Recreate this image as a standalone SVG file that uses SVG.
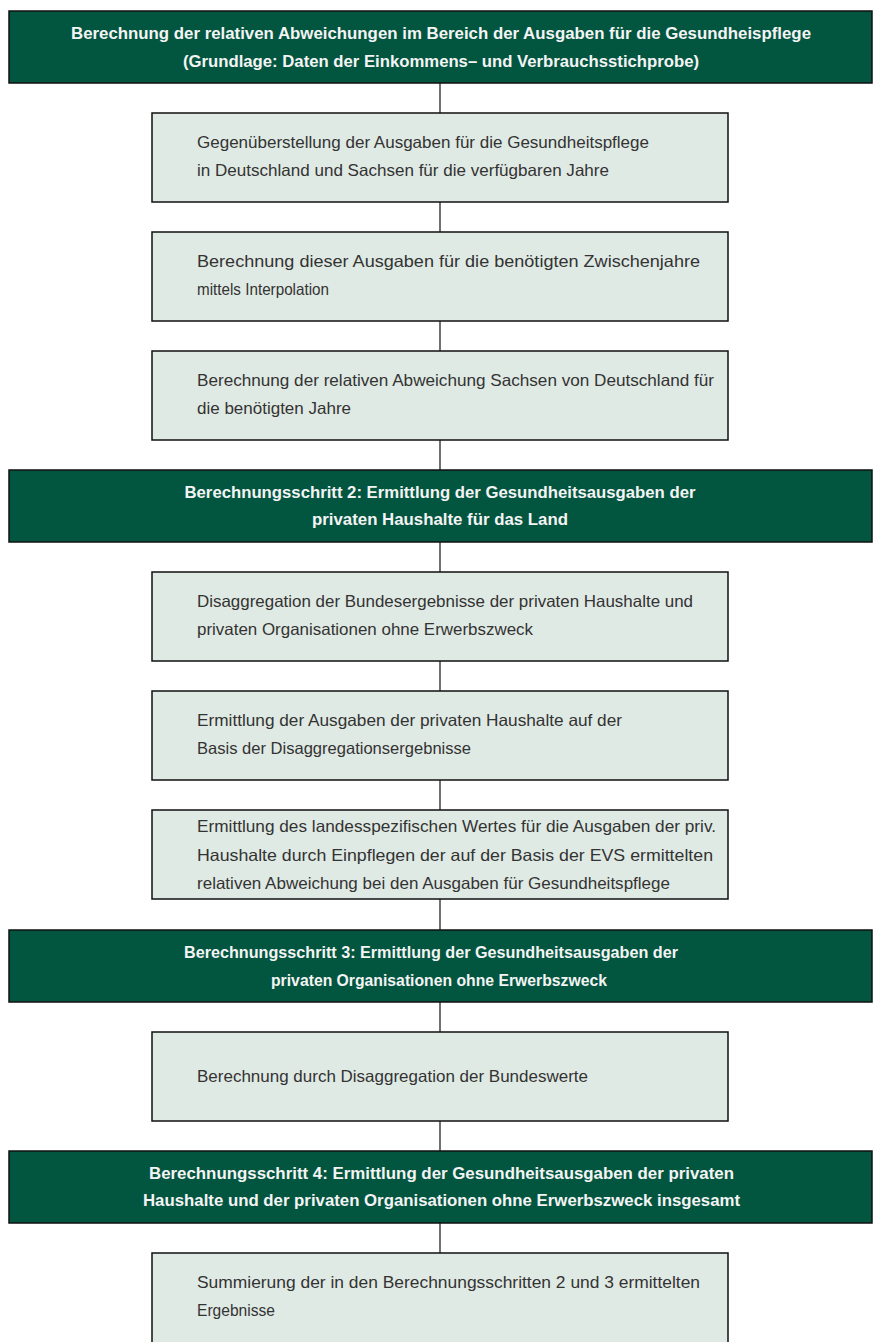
<svg xmlns="http://www.w3.org/2000/svg" width="875" height="1342" viewBox="0 0 875 1342">
<style>
.hd{fill:#02553F;stroke:#111;stroke-width:1.5}
.bx{fill:#E0EAE4;stroke:#111;stroke-width:1.5}
.ht{font-family:"Liberation Sans Narrow","Liberation Sans",Arial,sans-serif;font-size:17px;font-weight:bold;fill:#F4F4F4;text-anchor:middle}
.bt{font-family:"Liberation Sans Narrow","Liberation Sans",Arial,sans-serif;font-size:16.5px;fill:#333333}
.cn{stroke:#111;stroke-width:1.2;fill:none}
</style>
<rect width="875" height="1342" fill="#FFFFFF"/>
<g id="connectors">
<line class="cn" x1="440" y1="83" x2="440" y2="113"/>
<line class="cn" x1="440" y1="202" x2="440" y2="232"/>
<line class="cn" x1="440" y1="321" x2="440" y2="351"/>
<line class="cn" x1="440" y1="440" x2="440" y2="470"/>
<line class="cn" x1="440" y1="542" x2="440" y2="572"/>
<line class="cn" x1="440" y1="661" x2="440" y2="691"/>
<line class="cn" x1="440" y1="780" x2="440" y2="810"/>
<line class="cn" x1="440" y1="899" x2="440" y2="930"/>
<line class="cn" x1="440" y1="1002" x2="440" y2="1032"/>
<line class="cn" x1="440" y1="1121" x2="440" y2="1151"/>
<line class="cn" x1="440" y1="1223" x2="440" y2="1253"/>
</g>
<g id="header1">
<rect class="hd" x="9" y="11" width="863" height="72"/>
<text class="ht" x="441" y="38.5" textLength="740" lengthAdjust="spacingAndGlyphs">Berechnung der relativen Abweichungen im Bereich der Ausgaben für die Gesundheispflege</text>
<text class="ht" x="441" y="66.5" textLength="516" lengthAdjust="spacingAndGlyphs">(Grundlage: Daten der Einkommens– und Verbrauchsstichprobe)</text>
</g>
<g id="box1">
<rect class="bx" x="152" y="113" width="576" height="89"/>
<text class="bt" x="197" y="148" textLength="452" lengthAdjust="spacingAndGlyphs">Gegenüberstellung der Ausgaben für die Gesundheitspflege</text>
<text class="bt" x="197" y="176" textLength="412" lengthAdjust="spacingAndGlyphs">in Deutschland und Sachsen für die verfügbaren Jahre</text>
</g>
<g id="box2">
<rect class="bx" x="152" y="232" width="576" height="89"/>
<text class="bt" x="197" y="267" textLength="503" lengthAdjust="spacingAndGlyphs">Berechnung dieser Ausgaben für die benötigten Zwischenjahre</text>
<text class="bt" x="197" y="295" textLength="132" lengthAdjust="spacingAndGlyphs">mittels Interpolation</text>
</g>
<g id="box3">
<rect class="bx" x="152" y="351" width="576" height="89"/>
<text class="bt" x="197" y="386" textLength="517" lengthAdjust="spacingAndGlyphs">Berechnung der relativen Abweichung Sachsen von Deutschland für</text>
<text class="bt" x="197" y="414" textLength="154" lengthAdjust="spacingAndGlyphs">die benötigten Jahre</text>
</g>
<g id="header2">
<rect class="hd" x="9" y="470" width="863" height="72"/>
<text class="ht" x="440" y="497.5" textLength="511" lengthAdjust="spacingAndGlyphs">Berechnungsschritt 2: Ermittlung der Gesundheitsausgaben der</text>
<text class="ht" x="440" y="525" textLength="256" lengthAdjust="spacingAndGlyphs">privaten Haushalte für das Land</text>
</g>
<g id="box4">
<rect class="bx" x="152" y="572" width="576" height="89"/>
<text class="bt" x="197" y="607" textLength="496" lengthAdjust="spacingAndGlyphs">Disaggregation der Bundesergebnisse der privaten Haushalte und</text>
<text class="bt" x="197" y="635" textLength="336" lengthAdjust="spacingAndGlyphs">privaten Organisationen ohne Erwerbszweck</text>
</g>
<g id="box5">
<rect class="bx" x="152" y="691" width="576" height="89"/>
<text class="bt" x="197" y="726" textLength="425" lengthAdjust="spacingAndGlyphs">Ermittlung der Ausgaben der privaten Haushalte auf der</text>
<text class="bt" x="197" y="754" textLength="274" lengthAdjust="spacingAndGlyphs">Basis der Disaggregationsergebnisse</text>
</g>
<g id="box6">
<rect class="bx" x="152" y="810" width="576" height="89"/>
<text class="bt" x="197" y="832" textLength="519" lengthAdjust="spacingAndGlyphs">Ermittlung des landesspezifischen Wertes für die Ausgaben der priv.</text>
<text class="bt" x="197" y="860.5" textLength="516" lengthAdjust="spacingAndGlyphs">Haushalte durch Einpflegen der auf der Basis der EVS ermittelten</text>
<text class="bt" x="197" y="889" textLength="473" lengthAdjust="spacingAndGlyphs">relativen Abweichung bei den Ausgaben für Gesundheitspflege</text>
</g>
<g id="header3">
<rect class="hd" x="9" y="930" width="863" height="72"/>
<text class="ht" x="431" y="957.5" textLength="494" lengthAdjust="spacingAndGlyphs">Berechnungsschritt 3: Ermittlung der Gesundheitsausgaben der</text>
<text class="ht" x="439" y="985.5" textLength="336" lengthAdjust="spacingAndGlyphs">privaten Organisationen ohne Erwerbszweck</text>
</g>
<g id="box7">
<rect class="bx" x="152" y="1032" width="576" height="89"/>
<text class="bt" x="197" y="1082" textLength="391" lengthAdjust="spacingAndGlyphs">Berechnung durch Disaggregation der Bundeswerte</text>
</g>
<g id="header4">
<rect class="hd" x="9" y="1151" width="863" height="72"/>
<text class="ht" x="441.5" y="1178.5" textLength="585" lengthAdjust="spacingAndGlyphs">Berechnungsschritt 4: Ermittlung der Gesundheitsausgaben der privaten</text>
<text class="ht" x="441.5" y="1206" textLength="597" lengthAdjust="spacingAndGlyphs">Haushalte und der privaten Organisationen ohne Erwerbszweck insgesamt</text>
</g>
<g id="box8">
<rect class="bx" x="152" y="1253" width="576" height="100"/>
<text class="bt" x="197" y="1288" textLength="503" lengthAdjust="spacingAndGlyphs">Summierung der in den Berechnungsschritten 2 und 3 ermittelten</text>
<text class="bt" x="197" y="1316" textLength="78" lengthAdjust="spacingAndGlyphs">Ergebnisse</text>
</g>
</svg>
